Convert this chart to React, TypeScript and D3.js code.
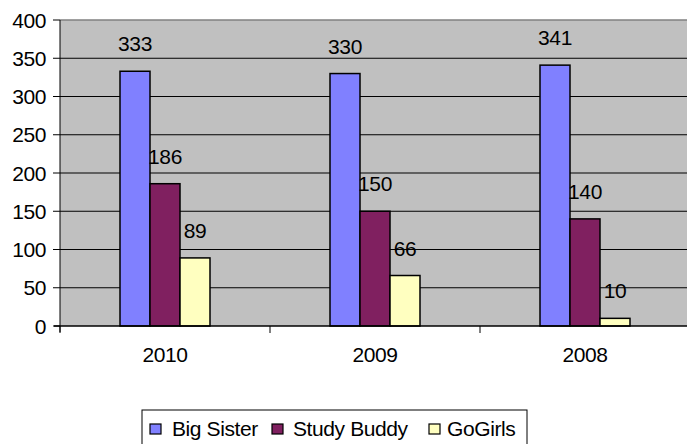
import React from "react";
import * as d3 from "d3";

const categories = ["2010", "2009", "2008"];
const seriesNames = ["Big Sister", "Study Buddy", "GoGirls"];
const bigSister = [333, 330, 341];
const studyBuddy = [186, 150, 140];
const goGirls = [89, 66, 10];
const yTicks = [0, 50, 100, 150, 200, 250, 300, 350, 400];
const colors = ["#8080FF", "#802060", "#FFFFC0"];

const W = 687;
const H = 444;
const plotLeft = 60;
const plotRight = 690;
const plotTop = 20;
const plotBottom = 326;
const FONT = "'Liberation Sans', Arial, sans-serif";
const FS = 21;
const LS = -0.4;

export default function App() {
  const values = [bigSister, studyBuddy, goGirls];
  const x0 = d3.scaleBand<string>().domain(categories).range([plotLeft, plotRight]).padding(0);
  const bw = x0.bandwidth();
  const x1 = d3
    .scaleBand<string>()
    .domain(seriesNames)
    .range([bw * (60 / 210), bw * (150 / 210)])
    .padding(0);
  const y = d3.scaleLinear().domain([0, 400]).range([plotBottom, plotTop]);

  const legendItems = [
    { sq: 150, tx: 172 },
    { sq: 272, tx: 293 },
    { sq: 429, tx: 447 },
  ];

  return (
    <svg
      width={W}
      height={H}
      style={{ position: "absolute", left: 0, top: 0, background: "#fff" }}
      fontFamily={FONT}
    >
      <rect x={plotLeft} y={plotTop} width={plotRight - plotLeft} height={plotBottom - plotTop} fill="#C0C0C0" />
      {yTicks
        .filter((t) => t > 0 && t < 400)
        .map((t) => (
          <line key={t} x1={plotLeft} x2={plotRight} y1={y(t)} y2={y(t)} stroke="#000" strokeWidth={1} />
        ))}
      <line x1={plotLeft} x2={plotRight} y1={y(400)} y2={y(400)} stroke="#808080" strokeWidth={1.5} />
      {categories.map((c, ci) =>
        seriesNames.map((s, si) => {
          const v = values[si][ci];
          const bx = (x0(c) as number) + (x1(s) as number);
          return (
            <rect
              key={c + s}
              x={bx}
              y={y(v)}
              width={x1.bandwidth()}
              height={plotBottom - y(v)}
              fill={colors[si]}
              stroke="#000"
              strokeWidth={1.5}
            />
          );
        })
      )}
      {categories.map((c, ci) =>
        seriesNames.map((s, si) => {
          const v = values[si][ci];
          const cx = (x0(c) as number) + (x1(s) as number) + x1.bandwidth() / 2;
          return (
            <text key={"l" + c + s} x={cx} y={y(v) - 20} fontSize={FS} textAnchor="middle" fill="#000" letterSpacing={LS}>
              {v}
            </text>
          );
        })
      )}
      {/* axes */}
      <line x1={plotLeft} x2={plotLeft} y1={plotTop} y2={plotBottom + 6} stroke="#000" strokeWidth={1} />
      <line x1={plotLeft - 6} x2={plotRight} y1={plotBottom} y2={plotBottom} stroke="#000" strokeWidth={1.5} />
      {yTicks.map((t) => (
        <g key={"yt" + t}>
          <line x1={plotLeft - 7} x2={plotLeft} y1={y(t)} y2={y(t)} stroke="#000" strokeWidth={1} />
          <text x={46} y={y(t)} dy="0.36em" fontSize={FS} textAnchor="end" fill="#000" letterSpacing={LS}>
            {t}
          </text>
        </g>
      ))}
      {categories.map((c) => (
        <g key={"xt" + c}>
          <line x1={x0(c) as number} x2={x0(c) as number} y1={plotBottom} y2={plotBottom + 7} stroke="#000" strokeWidth={1} />
          <text x={(x0(c) as number) + bw / 2} y={362} fontSize={FS} textAnchor="middle" fill="#000" letterSpacing={LS}>
            {c}
          </text>
        </g>
      ))}
      {/* legend */}
      <rect x={142} y={410} width={385} height={40} fill="#fff" stroke="#000" strokeWidth={1} />
      {seriesNames.map((s, i) => (
        <g key={"lg" + s}>
          <rect x={legendItems[i].sq} y={424} width={11} height={10} fill={colors[i]} stroke="#000" strokeWidth={1.2} />
          <text x={legendItems[i].tx} y={436} fontSize={FS} fill="#000" letterSpacing={LS}>
            {s}
          </text>
        </g>
      ))}
    </svg>
  );
}
